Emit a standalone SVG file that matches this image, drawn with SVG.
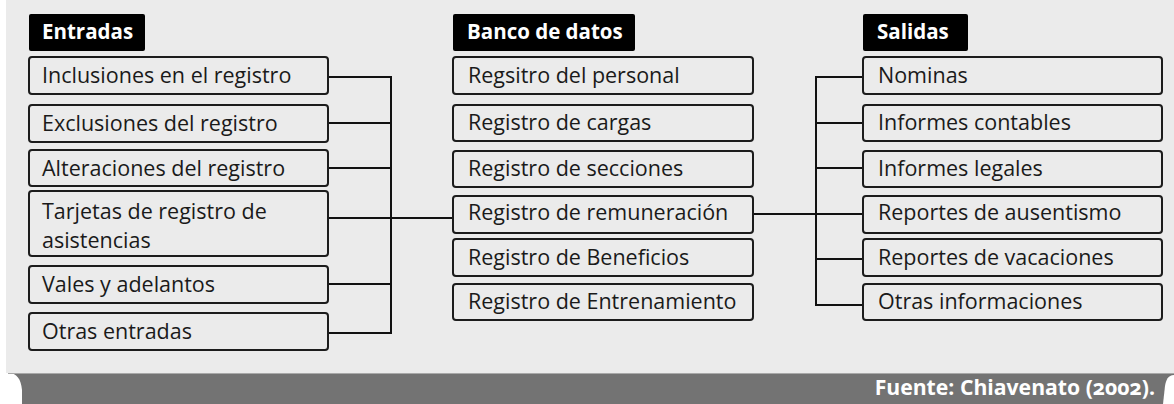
<svg xmlns="http://www.w3.org/2000/svg" width="1174" height="404" viewBox="0 0 1174 404">
<style>
.bg{fill:#ebebeb}
.box{fill:#ebebeb;stroke:#1c1c1c;stroke-width:2}
.hdr{fill:#000}
.t{font-family:"Open Sans","Noto Sans",sans-serif;font-size:21.5px;fill:#1a1a1a}
.h{font-family:"Open Sans","Noto Sans",sans-serif;font-size:20.5px;font-weight:bold;fill:#fff}
.f{font-family:"Open Sans","Noto Sans",sans-serif;font-size:21.2px;font-weight:bold;fill:#fff;font-variant-numeric:oldstyle-nums}
.c{fill:none;stroke:#111;stroke-width:2}
</style>
<rect x="0" y="0" width="1174" height="404" fill="#ffffff"/>
<rect class="bg" x="6" y="0" width="1168" height="373"/>
<path d="M8,373 L1174,373 L1174,404 L22,404 L22,390 C21,379 17,373 8,373 Z" fill="#737373"/>
<line x1="8" y1="373.5" x2="1174" y2="373.5" stroke="#a8a8a8" stroke-width="1"/>
<path d="M1174,375 C1168,375 1166,380 1165,386 L1163,404 L1174,404 Z" fill="#ffffff"/>
<text class="f" x="1155" y="395" text-anchor="end">Fuente: Chiavenato (2002).</text>

<g id="connectors">
<path class="c" d="M328,77 H391 M328,123 H391 M328,168 H391 M328,218 H453 M328,284 H391 M328,333 H391 M391,76 V334"/>
<path class="c" d="M753,214 H863 M816,77 H863 M816,123 H863 M816,168 H863 M816,259 H863 M816,305 H863 M816,76 V306"/>
</g>

<g id="hdr-entradas"><rect class="hdr" x="29" y="14" width="116" height="37" rx="2"/><text class="h" x="42" y="39">Entradas</text></g>
<g id="hdr-banco"><rect class="hdr" x="453" y="14" width="182" height="37" rx="2"/><text class="h" x="467" y="39">Banco de datos</text></g>
<g id="hdr-salidas"><rect class="hdr" x="863" y="14" width="105" height="37" rx="2"/><text class="h" x="877" y="39">Salidas</text></g>

<g id="in1"><rect class="box" x="29" y="57" width="299" height="37" rx="3"/><text class="t" x="42" y="83">Inclusiones en el registro</text></g>
<g id="in2"><rect class="box" x="29" y="105" width="299" height="37" rx="3"/><text class="t" x="42" y="131">Exclusiones del registro</text></g>
<g id="in3"><rect class="box" x="29" y="150" width="299" height="36" rx="3"/><text class="t" x="42" y="176">Alteraciones del registro</text></g>
<g id="in4"><rect class="box" x="29" y="191" width="299" height="65" rx="3"/><text class="t" x="42" y="219">Tarjetas de registro de</text><text class="t" x="42" y="248">asistencias</text></g>
<g id="in5"><rect class="box" x="29" y="266" width="299" height="37" rx="3"/><text class="t" x="42" y="292">Vales y adelantos</text></g>
<g id="in6"><rect class="box" x="29" y="313" width="299" height="37" rx="3"/><text class="t" x="42" y="339">Otras entradas</text></g>

<g id="db1"><rect class="box" x="453" y="57" width="300" height="37" rx="3"/><text class="t" x="468" y="83">Regsitro del personal</text></g>
<g id="db2"><rect class="box" x="453" y="105" width="300" height="36" rx="3"/><text class="t" x="468" y="130">Registro de cargas</text></g>
<g id="db3"><rect class="box" x="453" y="151" width="300" height="36" rx="3"/><text class="t" x="468" y="176">Registro de secciones</text></g>
<g id="db4"><rect class="box" x="453" y="196" width="300" height="37" rx="3"/><text class="t" x="468" y="220">Registro de remuneración</text></g>
<g id="db5"><rect class="box" x="453" y="239" width="300" height="37" rx="3"/><text class="t" x="468" y="265">Registro de Beneficios</text></g>
<g id="db6"><rect class="box" x="453" y="284" width="300" height="36" rx="3"/><text class="t" x="468" y="309">Registro de Entrenamiento</text></g>

<g id="out1"><rect class="box" x="863" y="57" width="299" height="37" rx="3"/><text class="t" x="878" y="83">Nominas</text></g>
<g id="out2"><rect class="box" x="863" y="105" width="299" height="36" rx="3"/><text class="t" x="878" y="130">Informes contables</text></g>
<g id="out3"><rect class="box" x="863" y="151" width="299" height="36" rx="3"/><text class="t" x="878" y="176">Informes legales</text></g>
<g id="out4"><rect class="box" x="863" y="196" width="299" height="37" rx="3"/><text class="t" x="878" y="220">Reportes de ausentismo</text></g>
<g id="out5"><rect class="box" x="863" y="239" width="299" height="37" rx="3"/><text class="t" x="878" y="265">Reportes de vacaciones</text></g>
<g id="out6"><rect class="box" x="863" y="284" width="299" height="36" rx="3"/><text class="t" x="878" y="309">Otras informaciones</text></g>
</svg>
